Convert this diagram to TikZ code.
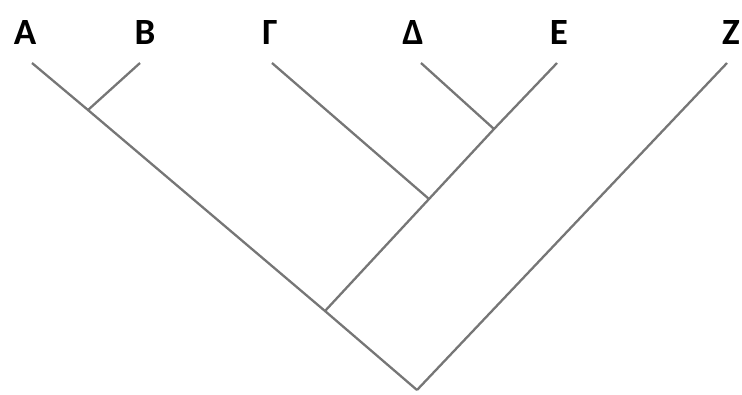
\documentclass[tikz,border=0pt]{standalone}
\usepackage{fontspec}
\setmainfont{Carlito}
\usetikzlibrary{positioning}
\definecolor{branchgray}{RGB}{118,118,118}
\tikzstyle{taxon} = [anchor=base, inner sep=0pt, font=\fontsize{37}{40}\selectfont\bfseries]
\tikzstyle{branch} = [draw=branchgray, line width=2.3pt]

\begin{document}
\begin{tikzpicture}[x=1pt, y=-1pt]
\useasboundingbox (0,0) rectangle (742,394);

% Taxon labels
\node (labA) [taxon] at (25,44) {Α};
\node (labB) [taxon] at (145,44) {Β};
\node (labG) [taxon] at (270,44) {Γ};
\node (labD) [taxon] at (413,44) {Δ};
\node (labE) [taxon] at (559,44) {Ε};
\node (labZ) [taxon] at (731,44) {Ζ};

% Branch tips
\coordinate (tipA) at (32,63);
\coordinate (tipB) at (140,63);
\coordinate (tipG) at (272,63);
\coordinate (tipD) at (421,63);
\coordinate (tipE) at (557,63);
\coordinate (tipZ) at (727,63);

% Nodes of the tree
\coordinate (nodeAB) at (88,110);
\coordinate (nodeDE) at (494,129);
\coordinate (nodeGDE) at (429,199);
\coordinate (nodeAG) at (325,311);
\coordinate (root) at (417,390);

% Branches
\draw [branch] (tipA) -- (nodeAB) -- (nodeAG) -- (root);
\draw [branch] (tipB) -- (nodeAB);
\draw [branch] (tipG) -- (nodeGDE);
\draw [branch] (tipD) -- (nodeDE);
\draw [branch] (tipE) -- (nodeDE) -- (nodeGDE) -- (nodeAG);
\draw [branch] (tipZ) -- (root);

\end{tikzpicture}
\end{document}
